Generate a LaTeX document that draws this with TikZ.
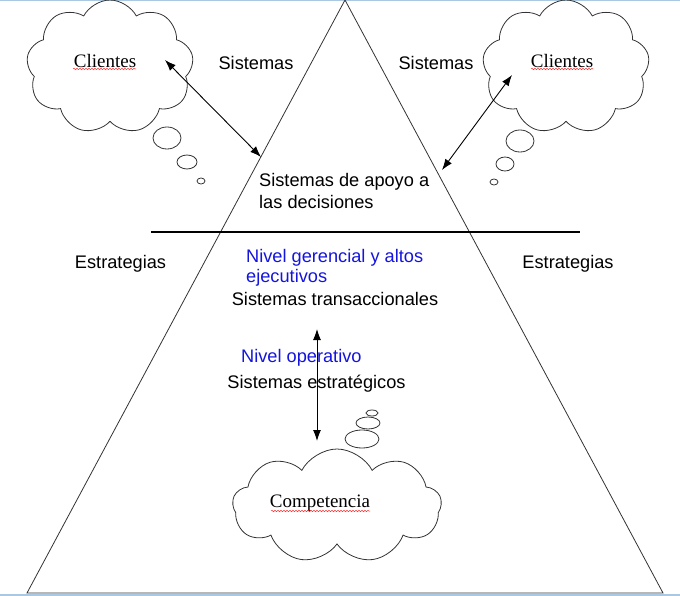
\documentclass[tikz,border=0pt]{standalone}
\usepackage{fontspec}
\setmainfont{Liberation Sans}
\newfontfamily\serifa{Liberation Serif}
\usetikzlibrary{arrows.meta,shapes.symbols,decorations.pathmorphing}
\definecolor{azulnivel}{RGB}{20,20,220}
\definecolor{bordeazul}{RGB}{170,200,225}
\tikzset{
  texto/.style={inner sep=0pt, font=\fontsize{18.2}{22}\selectfont},
  nivel/.style={texto, text=azulnivel},
  nombre/.style={inner sep=0pt, font=\serifa\fontsize{19}{22}\selectfont},
  nube/.style={draw, cloud, cloud puffs=9, cloud puff arc=125, inner sep=0pt, line width=0.8pt, black!80},
  burbuja/.style={draw=black!80, line width=0.8pt},
  flecha/.style={{Latex[length=11pt,width=8pt]}-{Latex[length=11pt,width=8pt]}, line width=0.9pt},
  ondulado/.style={red!80, line width=0.5pt, decorate, decoration={snake, segment length=3pt, amplitude=0.7pt}}
}
\begin{document}
\begin{tikzpicture}[x=1pt,y=-1pt]
  \useasboundingbox (0,0) rectangle (680,596);
  %%%%% bordes %%%%%
  \draw[bordeazul, line width=1.5pt] (0,0.7) -- (680,0.7);
  \draw[bordeazul, line width=2.5pt] (0,595) -- (680,595);

  %%%%% piramide %%%%%
  \coordinate (apex) at (345,0);
  \coordinate (baseL) at (27,593);
  \coordinate (baseR) at (663,593);
  \draw[line width=0.8pt, black!80] (apex) -- (baseL) -- (baseR) -- cycle;
  \coordinate (divL) at (151,232);
  \coordinate (divR) at (580,232);
  \draw[line width=2.6pt] (divL) -- (divR);

  %%%%% nubes %%%%%
  \node[nube, minimum width=167, minimum height=134, aspect=1.25] (nubeL) at (110,67) {};
  \node[nube, minimum width=167, minimum height=134, aspect=1.25] (nubeR) at (566,67) {};
  \node[nube, minimum width=209, minimum height=114, aspect=1.8] (nubeC) at (337,506) {};

  \draw[burbuja] (167,138) ellipse (14 and 11);
  \draw[burbuja] (187,162) ellipse (10 and 7);
  \draw[burbuja] (201,181) ellipse (4 and 3);

  \draw[burbuja] (520,141) ellipse (14 and 11);
  \draw[burbuja] (505,164) ellipse (9 and 7);
  \draw[burbuja] (494,182) ellipse (4 and 3);

  \draw[burbuja] (362,439) ellipse (17 and 9);
  \draw[burbuja] (368,423) ellipse (12 and 6);
  \draw[burbuja] (372,413) ellipse (6 and 3);

  %%%%% textos %%%%%
  \node[nombre] (cliL) at (105,61) {Clientes};
  \node[nombre] (cliR) at (562,61) {Clientes};
  \node[nombre] (comp) at (320,503) {Competencia};
  \draw[ondulado] (73,69) -- (136,69);
  \draw[ondulado] (531,69) -- (593,69);
  \draw[ondulado] (271,511) -- (370,511);

  \node[texto] (sisL) at (256,63) {Sistemas};
  \node[texto] (sisR) at (436,63) {Sistemas};
  \node[texto, anchor=west] (apoyo1) at (259,182) {Sistemas de apoyo a};
  \node[texto, anchor=west] (apoyo2) at (259,202) {las decisiones};
  \node[texto] (estL) at (120.5,264) {Estrategias};
  \node[texto] (estR) at (568,264) {Estrategias};
  \node[nivel, anchor=west] (ger1) at (246,258) {Nivel gerencial y altos};
  \node[nivel, anchor=west] (ger2) at (246,278) {ejecutivos};
  \node[texto] (trans) at (335,299) {Sistemas transaccionales};
  \node[nivel, anchor=west] (oper) at (241,358) {Nivel operativo};
  \node[texto] (estrat) at (316.5,384) {Sistemas estrat\'egicos};

  %%%%% flechas %%%%%
  \coordinate (fLa) at (165,60);
  \coordinate (fLb) at (261,157);
  \coordinate (fRa) at (512,75);
  \coordinate (fRb) at (442,170);
  \coordinate (fCa) at (317,329);
  \coordinate (fCb) at (317,441);
  \draw[flecha] (fLa) -- (fLb);
  \draw[flecha] (fRa) -- (fRb);
  \draw[flecha] (fCa) -- (fCb);
\end{tikzpicture}
\end{document}
